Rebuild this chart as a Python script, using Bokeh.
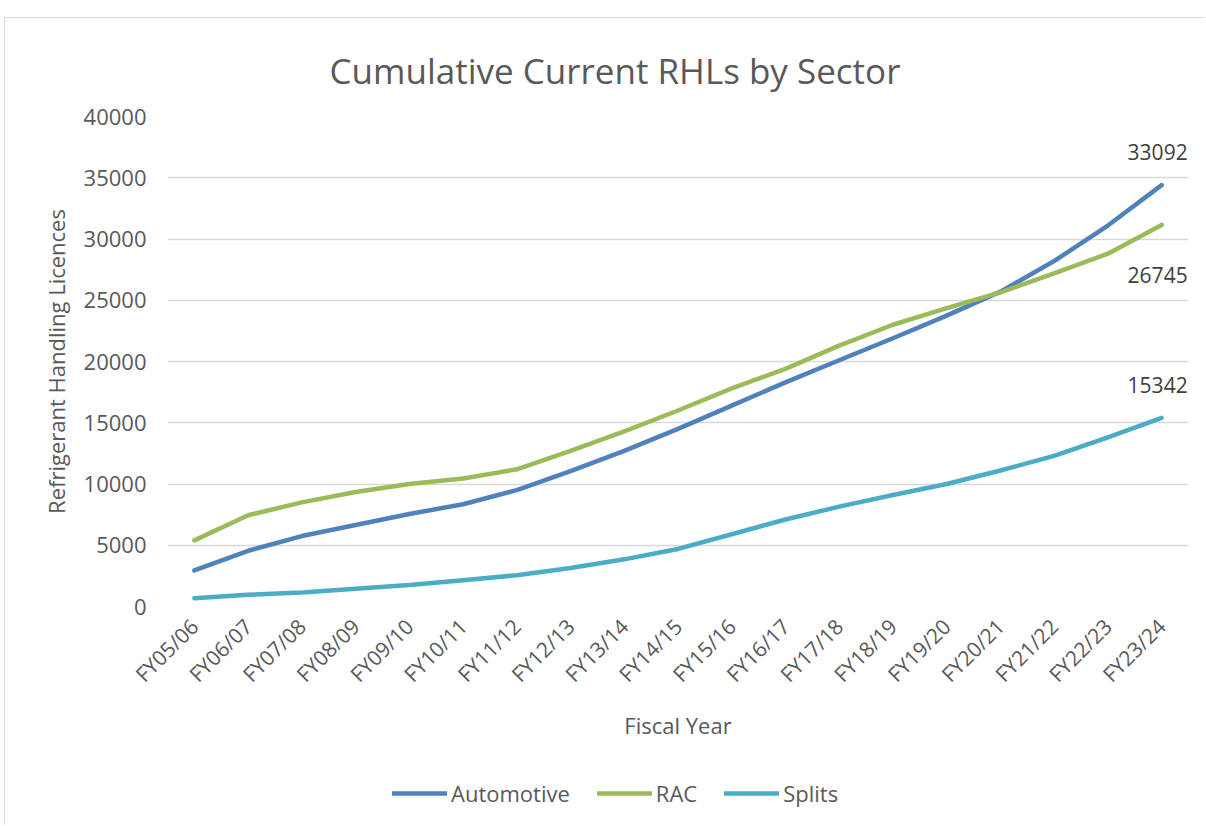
import math
from bokeh.plotting import figure
from bokeh.layouts import column
from bokeh.models import (ColumnDataSource, FactorRange, Range1d, SingleIntervalTicker,
                          Legend, LegendItem, LabelSet, Title)
from bokeh.core.properties import value
from bokeh.embed import file_html
from bokeh.resources import INLINE

years = ["FY05/06", "FY06/07", "FY07/08", "FY08/09", "FY09/10", "FY10/11", "FY11/12",
         "FY12/13", "FY13/14", "FY14/15", "FY15/16", "FY16/17", "FY17/18", "FY18/19",
         "FY19/20", "FY20/21", "FY21/22", "FY22/23", "FY23/24"]
automotive = [2950, 4550, 5750, 6650, 7550, 8350, 9500, 11050, 12700, 14500, 16400, 18300,
              20100, 21900, 23750, 25700, 28200, 31100, 34400]
rac = [5400, 7450, 8500, 9350, 10000, 10450, 11200, 12700, 14300, 16000, 17800, 19400,
       21300, 23000, 24350, 25650, 27200, 28800, 31150]
splits = [680, 950, 1150, 1450, 1750, 2150, 2550, 3150, 3850, 4700, 5900, 7100,
          8150, 9100, 10000, 11100, 12300, 13800, 15400]
series_names = ["Automotive", "RAC", "Splits"]
series_colors = ["#4F81BD", "#9BBB59", "#4BACC6"]
end_labels = ["33092", "26745", "15342"]
y_ticks_step = 5000

FONT = "Open Sans"
GREY = "#595959"
BORDER = "1px solid #d9d9d9"

p = figure(x_range=FactorRange(factors=years, range_padding=0),
           y_range=Range1d(0, 40000),
           width=1201, height=742, output_backend="svg", toolbar_location=None,
           min_border_left=162, min_border_right=18, min_border_top=98, min_border_bottom=154,
           margin=(17, 0, 0, 4),
           styles={"border-left": BORDER, "border-top": BORDER})
p.outline_line_color = None
p.background_fill_color = "white"
p.border_fill_color = "white"

t = Title(text="Cumulative Current RHLs by Sector", align="left", offset=162,
          text_font=FONT, text_font_size="35px", text_color=GREY, text_font_style="normal",
          standoff=46)
p.add_layout(t, "above")

# grid
p.xgrid.grid_line_color = None
p.ygrid.grid_line_color = "#d9d9d9"
p.ygrid.grid_line_width = 1.6
p.yaxis.ticker = SingleIntervalTicker(interval=y_ticks_step)

for ax in (p.xaxis[0], p.yaxis[0]):
    ax.axis_line_color = None
    ax.major_tick_line_color = None
    ax.minor_tick_line_color = None
    ax.major_label_text_font = FONT
    ax.major_label_text_color = GREY
    ax.axis_label_text_font = FONT
    ax.axis_label_text_color = GREY
    ax.axis_label_text_font_style = "normal"

p.yaxis.major_label_text_font_size = "22px"
p.yaxis.major_label_standoff = 15
p.yaxis.axis_label = "Refrigerant Handling Licences"
p.yaxis.axis_label_text_font_size = "22px"
p.yaxis.axis_label_standoff = 10

p.xaxis.major_label_orientation = math.pi / 4
p.xaxis.major_label_text_font_size = "21px"
p.xaxis.major_label_standoff = 10
p.xaxis.axis_label = "Fiscal Year"
p.xaxis.axis_label_text_font_size = "22px"
p.xaxis.axis_label_standoff = 9

series = [automotive, rac, splits]
for name, vals, col in zip(series_names, series, series_colors):
    src = ColumnDataSource(dict(x=years, y=vals))
    p.line("x", "y", source=src, line_color=col, line_width=4.5,
           line_join="round", line_cap="round")

last = years[-1]
lab_src = ColumnDataSource(dict(
    x=[last] * 3,
    y=[automotive[-1], rac[-1], splits[-1]],
    text=end_labels,
    yoff=[33, -50, 33],
))
labels = LabelSet(x="x", y="y", text="text", source=lab_src, y_offset="yoff", x_offset=-4,
                  text_align="center", text_baseline="middle",
                  text_font=value(FONT), text_font_size=value("21px"), text_color=value("#404040"))
p.add_layout(labels)

# legend strip below the chart: same series, drawn out of view so only the legend shows
p2 = figure(width=1201, height=66, output_backend="svg", toolbar_location=None,
            x_range=p.x_range, y_range=Range1d(-2, -1),
            x_axis_location=None, y_axis_location=None,
            min_border=0, margin=(0, 0, 0, 4), styles={"border-left": BORDER})
p2.outline_line_color = None
p2.grid.grid_line_color = None
leg_renderers = []
for name, vals, col in zip(series_names, series, series_colors):
    src = ColumnDataSource(dict(x=years, y=vals))
    leg_renderers.append(p2.line("x", "y", source=src, line_color=col, line_width=4.5,
                                 line_cap="round"))

legend = Legend(items=[LegendItem(label=n, renderers=[r]) for n, r in zip(series_names, leg_renderers)],
                orientation="horizontal", location=(225, 17),
                label_text_font=FONT, label_text_font_size="22px", label_text_color=GREY,
                glyph_width=55, glyph_height=22, label_standoff=4, spacing=27,
                padding=0, margin=0, border_line_color=None, background_fill_alpha=0)
p2.add_layout(legend, "center")

layout = column(p, p2, spacing=0)
open("out.html", "w").write(file_html(layout, INLINE))
